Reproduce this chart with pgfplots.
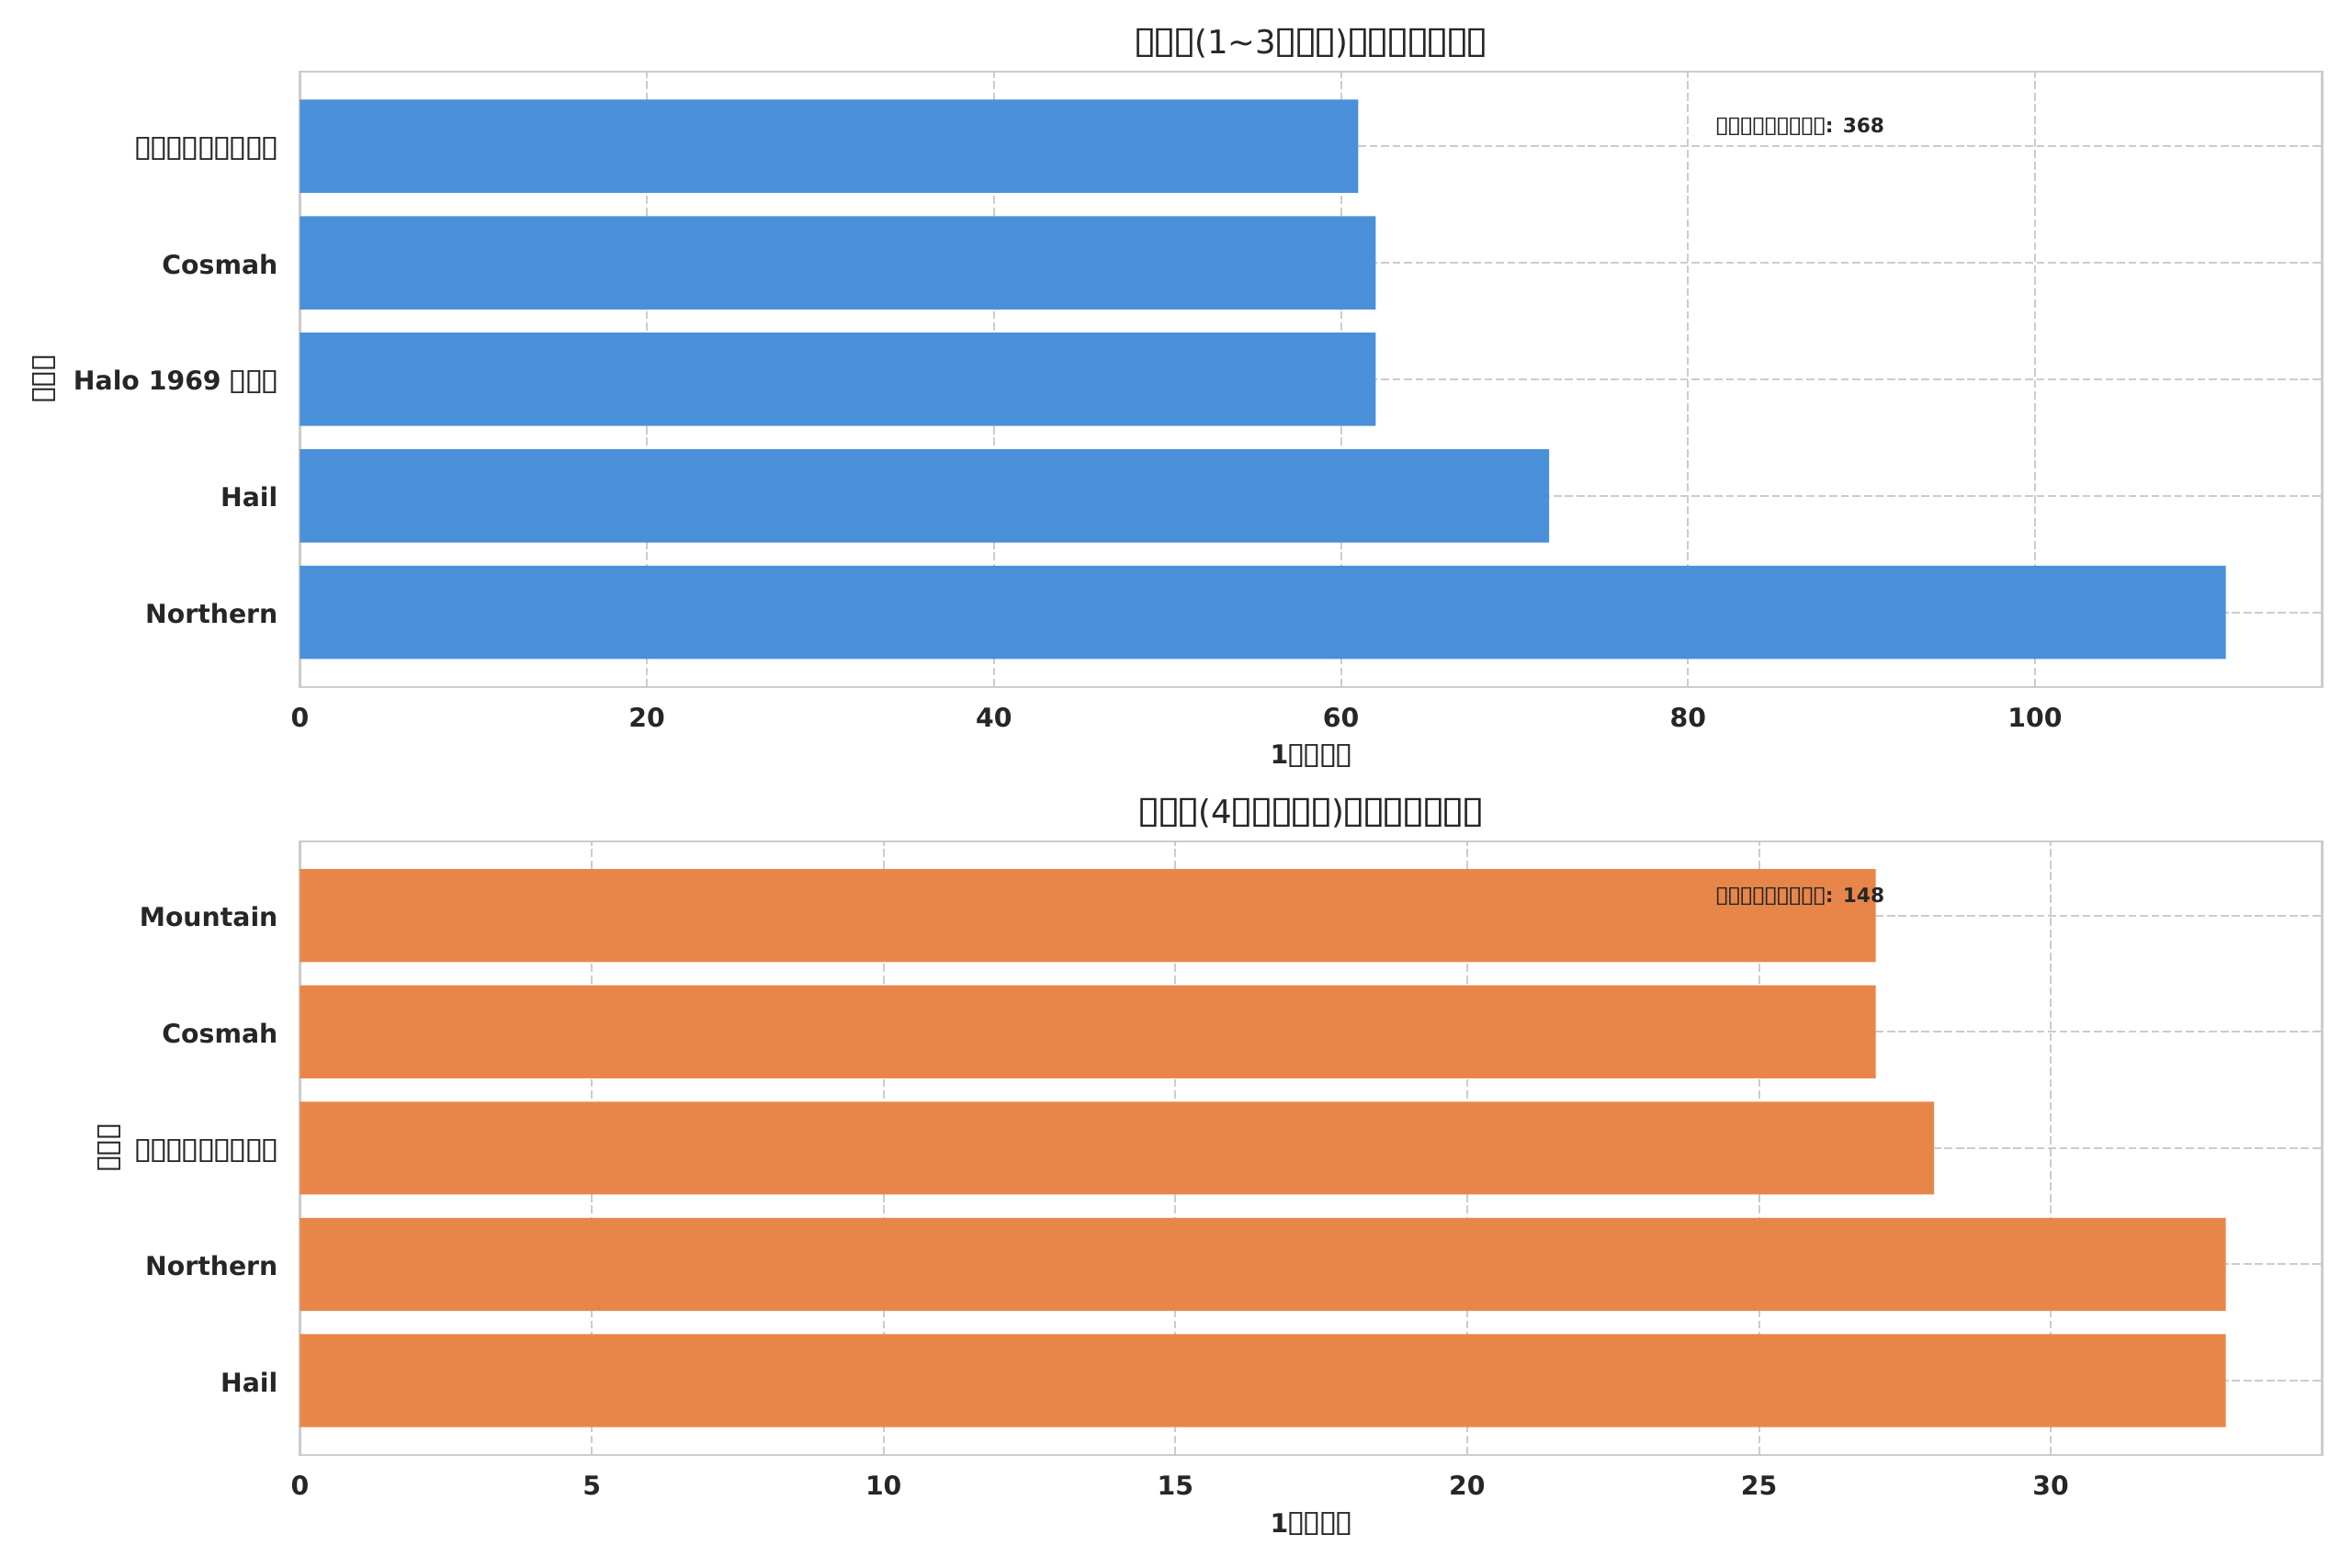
\documentclass[border=0pt]{standalone}
\usepackage{fontspec}
\setmainfont{DejaVu Sans}
\newfontfamily\tofufont{DejaVu Sans}
\usepackage{graphicx}
\usepackage{pgfplots}
\pgfplotsset{compat=1.18}
\definecolor{txt}{HTML}{262626}
\definecolor{gridc}{HTML}{CCCCCC}
\definecolor{framec}{HTML}{CCCCCC}
\definecolor{barblue}{HTML}{4A90D9}
\definecolor{barorange}{HTML}{E8864A}
% missing-glyph box, as in the reference, set from the white rectangle character
\newdimen\tfem \newdimen\tfL \newdimen\tfR \newdimen\tfT \newdimen\tfD
\newdimen\tfW \newdimen\tfH \newdimen\tfK \newdimen\tfV
\newcount\tfG
\newcommand\T{\begingroup
  \tfem=1em\relax
  \tofufont\mdseries
  \tfG=\XeTeXcharglyph"25AF\relax
  \setbox0=\hbox{\symbol{"25AF}}%
  \tfL=\XeTeXglyphbounds1 \tfG
  \tfT=\XeTeXglyphbounds2 \tfG
  \tfR=\XeTeXglyphbounds3 \tfG
  \tfD=\XeTeXglyphbounds4 \tfG
  \tfW=\wd0 \advance\tfW by -\tfL \advance\tfW by -\tfR
  \tfH=\tfT \advance\tfH by \tfD
  \pgfmathsetmacro\tfsx{0.49*\the\tfem/\the\tfW}%
  \pgfmathsetmacro\tfsy{0.88*\the\tfem/\the\tfH}%
  \pgfmathsetlength\tfK{0.06*\the\tfem-\tfsx*\the\tfL}%
  \pgfmathsetlength\tfV{-0.12*\the\tfem+\tfsy*\the\tfD}%
  \makebox[0.61em][l]{\kern\tfK\raisebox{\tfV}{\scalebox{\tfsx}[\tfsy]{\box0}}}%
\endgroup}
\pgfplotsset{
  every axis title shift=0pt,
  common/.style={
    scale only axis,
    anchor=south west,
    width=932pt,
    xbar, bar width=0.8, bar shift=0pt,
    ymin=-0.64, ymax=4.64,
    xmin=0,
    ytick={0,1,2,3,4},
    /pgf/number format/assume math mode=true,
    tick style={draw=none},
    major tick length=0pt,
    minor tick num=0,
    xmajorgrids, ymajorgrids,
    grid style={dash pattern=on 3.7pt off 1.6pt, line width=0.8pt, color=gridc},
    axis line style={color=framec, line width=1pt},
    ticklabel style={font=\bfseries\fontsize{12}{14}\selectfont, text=txt},
    xticklabel style={anchor=north, inner sep=0pt, yshift=-9.3pt},
    yticklabel style={anchor=base east, inner sep=0pt, xshift=-10pt, yshift=-5.1pt},
    title style={font=\fontsize{15}{18}\selectfont, text=txt, at={(axis description cs:0.5,1)}, anchor=base, yshift=8.3pt, inner sep=0pt},
    xlabel style={font=\bfseries\fontsize{12}{14}\selectfont, text=txt, at={(axis description cs:0.5,0)}, anchor=base, yshift=-35.6pt, inner sep=0pt},
    ylabel style={font=\bfseries\fontsize{12}{14}\selectfont, text=txt, anchor=center, inner sep=0pt},
    xlabel={1\T\T\T\T},
    ylabel={\T\T\T},
  }
}
\begin{document}
\begin{tikzpicture}[x=1pt,y=1pt]
\useasboundingbox (0,0) rectangle (1084,722.8);
\begin{axis}[common,
  at={(138.25pt,406.1pt)}, height=283.7pt,
  xmax=116.55, xtick={0,20,40,60,80,100},
  yticklabels={Northern,Hail,Halo 1969 \T\T\T,Cosmah,\T\T\T\T\T\T\T\T\T},
  title={\T\T\T(1\textasciitilde3\T\T\T)\T\T\T\T\T\T\T},
  ylabel style={at={(axis description cs:-0.12672,0.5)}},
]
\addplot[fill=barblue, draw=none] coordinates {(111,0) (72,1) (62,2) (62,3) (61,4)};
\node[anchor=base west, inner sep=0pt, text=txt, font=\bfseries\fontsize{9.2}{11}\selectfont] at (rel axis cs:0.7,0.9) {\T\T\T\T\T\T\T\T\T: 368};
\end{axis}
\begin{axis}[common,
  at={(138.25pt,52.1pt)}, height=282.9pt,
  xmax=34.65, xtick={0,5,10,15,20,25,30},
  yticklabels={Hail,Northern,\T\T\T\T\T\T\T\T\T,Cosmah,Mountain},
  title={\T\T\T(4\T\T\T\T\T)\T\T\T\T\T\T\T},
  ylabel style={at={(axis description cs:-0.09431,0.5)}},
]
\addplot[fill=barorange, draw=none] coordinates {(33,0) (33,1) (28,2) (27,3) (27,4)};
\node[anchor=base west, inner sep=0pt, text=txt, font=\bfseries\fontsize{9.2}{11}\selectfont] at (rel axis cs:0.7,0.9) {\T\T\T\T\T\T\T\T\T: 148};
\end{axis}
\end{tikzpicture}
\end{document}
